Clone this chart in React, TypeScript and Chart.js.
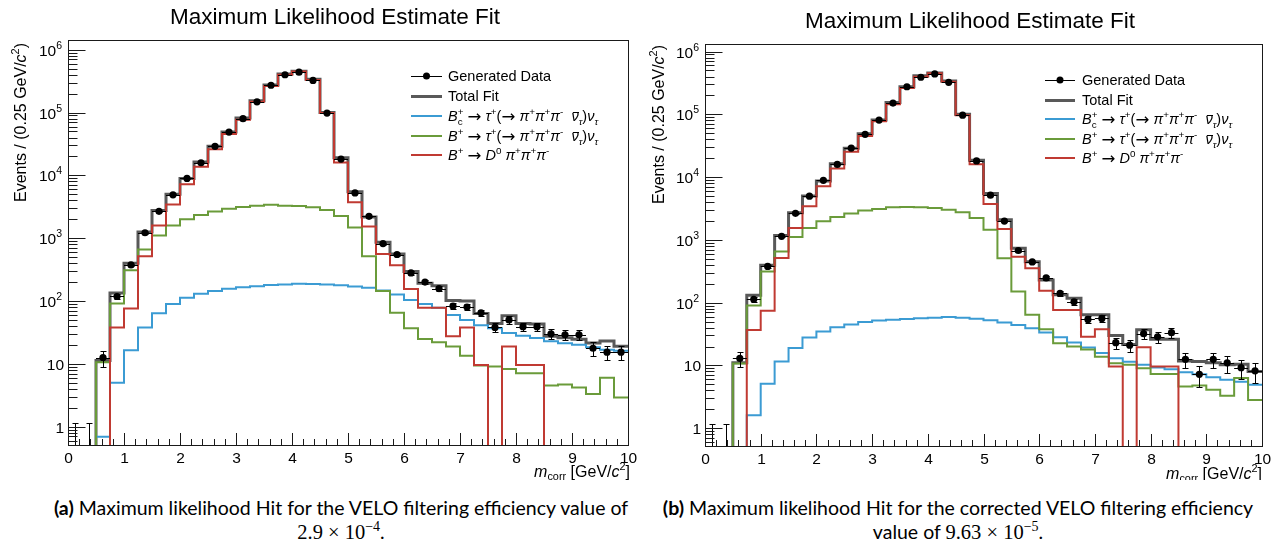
import React, { useEffect, useRef } from 'react';
import { Chart, registerables } from 'chart.js';

Chart.register(...registerables);

// ---------- axis / binning ----------
const BIN_LOW = [0, 0.25, 0.5, 0.75, 1, 1.25, 1.5, 1.75, 2, 2.25, 2.5, 2.75, 3, 3.25, 3.5, 3.75, 4, 4.25, 4.5, 4.75,
  5, 5.25, 5.5, 5.75, 6, 6.25, 6.5, 6.75, 7, 7.25, 7.5, 7.75, 8, 8.25, 8.5, 8.75, 9, 9.25, 9.5, 9.75];
const BIN_WIDTH = 0.25;
const X_MIN = 0;
const X_MAX = 10;
const X_TICK_VALUES = [0, 1, 2, 3, 4, 5, 6, 7, 8, 9, 10];
const X_TICK_LABELS = ['0', '1', '2', '3', '4', '5', '6', '7', '8', '9', '10'];
const X_MINOR_STEP = 0.2;
const Y_TICK_VALUES = [1, 10, 100, 1000, 10000, 100000, 1000000];
const Y_TICK_BASES = ['1', '10', '10', '10', '10', '10', '10'];
const Y_TICK_EXPS = ['', '', '2', '3', '4', '5', '6'];
const ZERO_UPPER = 1.15; // Poisson upper error for an empty bin

// ---------- (a) VELO efficiency 2.9e-4 ----------
const DATA_A = [0, 0, 12.6, 118, 375, 1220, 2680, 4900, 8950, 15900, 29000, 49000, 80000, 148000, 272000, 400000, 440000, 325000, 98000, 18200,
  5250, 2230, 820, 550, 280, 200, 158, 83, 80, 65, 38, 50, 39, 39, 30, 29, 29, 17.7, 15.3, 15.3];
const TOTAL_A = [0, 0, 11.3, 134, 400, 1250, 2760, 5000, 8900, 16300, 29000, 49000, 82000, 154000, 275000, 410000, 456000, 338000, 100000, 19000,
  5500, 2180, 860, 560, 295, 192, 175, 102, 100, 63, 44, 58, 44, 43, 27.5, 26, 24.5, 21.5, 23, 19];
const BC_A = [0, 0, 0.69, 5.0, 16.4, 38, 64, 90, 113, 131, 144, 157, 166, 172, 179, 183, 188, 187, 183, 178,
  170, 162, 147, 127, 104, 90, 78, 60, 50, 41, 37, 31, 28, 25.7, 22.8, 21.2, 20.2, 18.3, 16.8, 16.2];
const BP_A = [0, 0, 10.6, 91, 310, 660, 1100, 1590, 2000, 2350, 2650, 2930, 3150, 3300, 3400, 3300, 3250, 3100, 2800, 2250,
  1480, 515, 144, 65, 37, 24.8, 22, 18.8, 13.5, 9.4, 9.1, 8.3, 7.1, 7.1, 4.5, 4.7, 4.2, 3.3, 6.0, 2.9];
const D0_A = [0, 0, 0, 38, 76, 516, 1590, 3450, 7200, 13700, 26000, 45600, 77000, 148000, 264000, 400000, 450000, 330000, 98000, 16000,
  3740, 1540, 560, 370, 155, 78, 78, 27.4, 38, 9.6, 0, 18.8, 9.6, 9.6, 0, 0, 0, 0, 0, 0];

// ---------- (b) corrected VELO efficiency 9.63e-5 ----------
const DATA_B = [0, 0, 12.9, 113, 377, 1140, 2650, 4970, 8900, 15900, 29000, 48000, 81000, 151000, 275000, 390000, 440000, 323000, 97000, 18100,
  5150, 1990, 677, 446, 248, 140, 103, 54, 56, 23, 21, 32, 28.5, 33.2, 12.5, 7.2, 12.5, 11, 9.2, 8.2];
const TOTAL_B = [0, 0, 11, 131, 395, 1170, 2700, 5000, 8700, 16300, 28700, 49000, 81000, 155000, 275000, 412000, 457000, 340000, 100000, 18500,
  5500, 2100, 733, 450, 229, 133, 117, 64, 64, 30, 21.5, 37, 26, 26, 11.8, 11.5, 11, 10.2, 10.4, 8];
const BC_B = [0, 0, 0, 1.6, 5.1, 11.5, 19, 27.8, 34.8, 40.7, 44.8, 49, 52, 53.5, 55, 56.5, 57.5, 59, 57.5, 55.5,
  52.5, 48.4, 44, 39, 33.4, 28.2, 23.2, 19.3, 15.8, 13, 11.4, 10.2, 9.3, 8.7, 7.8, 7.2, 6.5, 5.9, 5.5, 4.9];
const BP_B = [0, 0, 10.7, 90, 312, 655, 1110, 1550, 1980, 2320, 2630, 2930, 3100, 3310, 3350, 3310, 3230, 3030, 2750, 2230,
  1450, 510, 150, 64, 37.7, 22.5, 20, 18, 13.8, 10.8, 10.2, 9.0, 7.3, 7.3, 4.6, 4.8, 4.1, 3.3, 6.3, 2.8];
const D0_B = [0, 0, 0, 36.6, 74.5, 513, 1550, 3430, 7180, 13700, 25400, 45300, 77600, 145000, 262000, 398000, 450000, 331000, 97000, 16000,
  3740, 1490, 540, 352, 155, 76, 76, 28.7, 37.6, 9.6, 0, 19.5, 9.6, 9.6, 0, 0, 0, 0, 0, 0];

// ---------- text ----------
type Seg = { t: string; it?: boolean; pos?: 'sup' | 'sub'; over?: boolean; stack?: boolean; big?: boolean };

const TITLE = 'Maximum Likelihood Estimate Fit';
const Y_TITLE: Seg[] = [{ t: 'Events / (0.25 GeV/' }, { t: 'c', it: true }, { t: '2', pos: 'sup' }, { t: ')' }];
const X_TITLE: Seg[] = [{ t: 'm', it: true }, { t: 'corr', pos: 'sub' }, { t: ' [GeV/' }, { t: 'c', it: true }, { t: '2', pos: 'sup' }, { t: ']' }];
const PI3: Seg[] = [
  { t: 'π', it: true }, { t: '+', pos: 'sup' }, { t: 'π', it: true }, { t: '+', pos: 'sup' }, { t: 'π', it: true }, { t: '-', pos: 'sup' },
];
const TAU_TAIL: Seg[] = [
  { t: ' ' }, { t: '→', big: true }, { t: ' ' }, { t: 'τ', it: true }, { t: '+', pos: 'sup' }, { t: '(' }, { t: '→', big: true }, { t: ' ' }, ...PI3, { t: '  ' },
  { t: 'ν', it: true, over: true }, { t: 'τ', it: true, pos: 'sub' }, { t: ')' }, { t: 'ν', it: true }, { t: 'τ', it: true, pos: 'sub' },
];
const LEGEND_LABELS: Seg[][] = [
  [{ t: 'Generated Data' }],
  [{ t: 'Total Fit' }],
  [{ t: 'B', it: true }, { t: '+', pos: 'sup', stack: true }, { t: 'c', pos: 'sub' }, ...TAU_TAIL],
  [{ t: 'B', it: true }, { t: '+', pos: 'sup' }, ...TAU_TAIL],
  [{ t: 'B', it: true }, { t: '+', pos: 'sup' }, { t: ' ' }, { t: '→', big: true }, { t: ' ' }, { t: 'D', it: true }, { t: '0', pos: 'sup' }, { t: ' ' }, ...PI3],
];

const FONT = '"Liberation Sans", Arial, sans-serif';
const COL_DATA = '#000000';
const COL_TOTAL = '#595959';
const COL_BC = '#3b9bd3';
const COL_BP = '#6a9b3a';
const COL_D0 = '#c03a32';
const LEGEND_STYLE = [
  { color: COL_DATA, width: 1, marker: true },
  { color: COL_TOTAL, width: 3, marker: false },
  { color: COL_BC, width: 2, marker: false },
  { color: COL_BP, width: 2, marker: false },
  { color: COL_D0, width: 2, marker: false },
];

function segFont(s: Seg, size: number) {
  const sz = s.pos ? size * 0.68 : s.big ? size * 1.15 : size;
  const fam = s.big ? '"DejaVu Sans", sans-serif' : FONT;
  return `${s.it ? 'italic ' : ''}${sz}px ${fam}`;
}
function richWidth(ctx: CanvasRenderingContext2D, segs: Seg[], size: number) {
  let w = 0;
  let pending = 0;
  for (const s of segs) {
    ctx.font = segFont(s, size);
    const sw = ctx.measureText(s.t).width;
    if (s.stack) { pending = sw; continue; }
    if (pending) { w += Math.max(pending, sw); pending = 0; } else w += sw;
  }
  return w;
}
function drawRich(ctx: CanvasRenderingContext2D, segs: Seg[], x: number, base: number, size: number) {
  let cx = x;
  let pending = 0;
  ctx.textAlign = 'left';
  ctx.textBaseline = 'alphabetic';
  for (const s of segs) {
    ctx.font = segFont(s, size);
    const sw = ctx.measureText(s.t).width;
    const dy = s.pos === 'sup' ? -size * 0.42 : s.pos === 'sub' ? size * 0.24 : s.big ? size * 0.05 : 0;
    ctx.fillText(s.t, cx, base + dy);
    if (s.over) {
      ctx.save();
      ctx.lineWidth = 1;
      ctx.strokeStyle = ctx.fillStyle as string;
      ctx.beginPath();
      const oy = Math.round(base + dy - size * 0.66) + 0.5;
      ctx.moveTo(cx + sw * 0.2, oy);
      ctx.lineTo(cx + sw * 1.05, oy);
      ctx.stroke();
      ctx.restore();
    }
    if (s.stack) { pending = sw; continue; }
    if (pending) { cx += Math.max(pending, sw); pending = 0; } else cx += sw;
  }
}

interface PanelCfg {
  width: number;
  pad: { left: number; right: number; top: number; bottom: number };
  yMin: number;
  yMax: number;
  data: number[];
  total: number[];
  bc: number[];
  bp: number[];
  d0: number[];
  titleX: number;
  titleY: number;
  legendRows: number[];
  legendLine: [number, number];
  legendTextX: number;
  yTitleX: number;
  yTitleTop: number;
  xTitleRight: number;
  xTitleY: number;
}

const FLOOR = 1e-4; // empty bins are drawn below the visible range

function steps(vals: number[]) {
  const pts = vals.map((v, i) => ({ x: BIN_LOW[i], y: v > 0 ? v : FLOOR }));
  const last = vals[vals.length - 1];
  pts.push({ x: X_MAX, y: last > 0 ? last : FLOOR });
  return pts;
}

function rootPlugin(cfg: PanelCfg) {
  return {
    id: 'rootStyle',
    afterDatasetsDraw(chart: any) {
      const { ctx, chartArea: a, scales } = chart;
      const x = scales.x;
      const y = scales.y;
      ctx.save();
      ctx.beginPath();
      ctx.rect(a.left, a.top, a.right - a.left, a.bottom - a.top);
      ctx.clip();
      ctx.strokeStyle = '#000';
      ctx.lineWidth = 1;
      const seg = (x1: number, y1: number, x2: number, y2: number) => {
        ctx.beginPath();
        ctx.moveTo(x1, y1);
        ctx.lineTo(x2, y2);
        ctx.stroke();
      };
      cfg.data.forEach((v, i) => {
        const px = Math.round(x.getPixelForValue(BIN_LOW[i] + BIN_WIDTH / 2)) + 0.5;
        if (v > 0) {
          const e = Math.sqrt(v);
          const py = Math.round(y.getPixelForValue(v)) + 0.5;
          const hi = Math.round(y.getPixelForValue(v + e)) + 0.5;
          const lo = v - e > 0 ? Math.round(y.getPixelForValue(v - e)) + 0.5 : a.bottom + 4;
          seg(px, lo, px, hi);
          seg(px - 3, hi, px + 3, hi);
          if (lo < a.bottom) seg(px - 3, lo, px + 3, lo);
          seg(x.getPixelForValue(BIN_LOW[i]), py, x.getPixelForValue(BIN_LOW[i] + BIN_WIDTH), py);
        } else {
          const hi = Math.round(y.getPixelForValue(ZERO_UPPER)) + 0.5;
          seg(px, a.bottom, px, hi);
          seg(px - 3, hi, px + 3, hi);
        }
      });
      ctx.restore();
    },
    afterDraw(chart: any) {
      const { ctx, chartArea: a, scales } = chart;
      const x = scales.x;
      const y = scales.y;
      ctx.save();
      ctx.fillStyle = '#000';
      ctx.strokeStyle = '#1a1a1a';
      ctx.lineWidth = 1;
      const L = Math.round(a.left) + 0.5;
      const R = Math.round(a.right) + 0.5;
      const T = Math.round(a.top) + 0.5;
      const B = Math.round(a.bottom) + 0.5;
      ctx.strokeRect(L, T, R - L, B - T);
      const line = (x1: number, y1: number, x2: number, y2: number) => {
        ctx.beginPath();
        ctx.moveTo(x1, y1);
        ctx.lineTo(x2, y2);
        ctx.stroke();
      };
      // x ticks (inside)
      for (let v = X_MIN; v <= X_MAX + 1e-9; v += X_MINOR_STEP) {
        const px = Math.round(x.getPixelForValue(v)) + 0.5;
        line(px, B, px, B - 6.5);
      }
      X_TICK_VALUES.forEach((v, i) => {
        const px = Math.round(x.getPixelForValue(v)) + 0.5;
        line(px, B, px, B - 12.5);
        ctx.font = `15.5px ${FONT}`;
        ctx.textAlign = 'center';
        ctx.textBaseline = 'middle';
        ctx.fillText(X_TICK_LABELS[i], px, a.bottom + 13.5);
      });
      // y ticks (inside)
      for (let d = 0.1; d <= 1e6; d *= 10) {
        for (let m = 2; m <= 9; m++) {
          const v = m * d;
          if (v < cfg.yMin || v > cfg.yMax) continue;
          const py = Math.round(y.getPixelForValue(v)) + 0.5;
          line(L, py, L + 9, py);
        }
      }
      Y_TICK_VALUES.forEach((v, i) => {
        const py = Math.round(y.getPixelForValue(v)) + 0.5;
        line(L, py, L + 17, py);
        const exp = Y_TICK_EXPS[i];
        ctx.textBaseline = 'alphabetic';
        ctx.textAlign = 'right';
        const right = a.left - 6;
        const base = py + 5.5;
        if (exp) {
          ctx.font = `10.5px ${FONT}`;
          const ew = ctx.measureText(exp).width;
          ctx.fillText(exp, right, base - 7);
          ctx.font = `15.5px ${FONT}`;
          ctx.fillText(Y_TICK_BASES[i], right - ew, base);
        } else {
          ctx.font = `15.5px ${FONT}`;
          ctx.fillText(Y_TICK_BASES[i], right + 2, base);
        }
      });
      // title
      ctx.font = `22.5px ${FONT}`;
      ctx.textAlign = 'center';
      ctx.textBaseline = 'middle';
      ctx.fillText(TITLE, cfg.titleX, cfg.titleY);
      // y title (rotated, right aligned at top)
      const ys = 16;
      const yw = richWidth(ctx, Y_TITLE, ys);
      ctx.save();
      ctx.translate(cfg.yTitleX, cfg.yTitleTop);
      ctx.rotate(-Math.PI / 2);
      drawRich(ctx, Y_TITLE, -yw, ys * 0.36, ys);
      ctx.restore();
      // x title (right aligned)
      const xw = richWidth(ctx, X_TITLE, 16);
      drawRich(ctx, X_TITLE, cfg.xTitleRight - xw, cfg.xTitleY + 5.5, 16);
      // legend
      const ls = 14.5;
      LEGEND_LABELS.forEach((segs, i) => {
        const ry = cfg.legendRows[i];
        const st = LEGEND_STYLE[i];
        ctx.strokeStyle = st.color;
        ctx.lineWidth = st.width;
        const ly = st.width % 2 === 1 ? Math.round(ry) + 0.5 : Math.round(ry);
        line(cfg.legendLine[0], ly, cfg.legendLine[1], ly);
        if (st.marker) {
          ctx.fillStyle = st.color;
          ctx.beginPath();
          ctx.arc((cfg.legendLine[0] + cfg.legendLine[1]) / 2, ry, 3.5, 0, Math.PI * 2);
          ctx.fill();
        }
        ctx.fillStyle = '#000';
        drawRich(ctx, segs, cfg.legendTextX, ry + ls * 0.36, ls);
      });
      ctx.restore();
    },
  };
}

function Panel({ cfg, left }: { cfg: PanelCfg; left: number }) {
  const ref = useRef<HTMLCanvasElement>(null);
  useEffect(() => {
    const pts = cfg.data.map((v, i) => ({ x: BIN_LOW[i] + BIN_WIDTH / 2, y: v > 0 ? v : null }));
    const stepDs = (label: string, vals: number[], color: string, w: number) => ({
      label,
      data: steps(vals),
      borderColor: color,
      borderWidth: w,
      pointRadius: 0,
      stepped: 'before' as const,
      fill: false,
      tension: 0,
    });
    const chart = new Chart(ref.current as HTMLCanvasElement, {
      type: 'line',
      data: {
        datasets: [
          {
            label: 'Generated Data',
            data: pts as any,
            showLine: false,
            pointRadius: 3.6,
            pointBackgroundColor: COL_DATA,
            pointBorderColor: COL_DATA,
            pointBorderWidth: 0,
            borderColor: COL_DATA,
          },
          stepDs('B+ → D0 π+π+π-', cfg.d0, COL_D0, 2),
          stepDs('B+ → τ+ ν', cfg.bp, COL_BP, 2),
          stepDs('Bc+ → τ+ ν', cfg.bc, COL_BC, 2),
          stepDs('Total Fit', cfg.total, COL_TOTAL, 3),
        ] as any,
      },
      options: {
        responsive: false,
        animation: false,
        events: [],
        layout: { padding: cfg.pad },
        scales: {
          x: { type: 'linear', min: X_MIN, max: X_MAX, display: false },
          y: { type: 'logarithmic', min: cfg.yMin, max: cfg.yMax, display: false },
        },
        plugins: {
          legend: { display: false },
          tooltip: { enabled: false },
          title: { display: false },
        },
      },
      plugins: [rootPlugin(cfg)],
    });
    return () => chart.destroy();
  }, []);
  return (
    <canvas
      ref={ref}
      width={cfg.width}
      height={480}
      style={{ position: 'absolute', left, top: 0, width: cfg.width, height: 480 }}
    />
  );
}

const PANEL_A: PanelCfg = {
  width: 640,
  pad: { left: 68, right: 12, top: 40, bottom: 35 },
  yMin: 0.51,
  yMax: 1.43e6,
  data: DATA_A, total: TOTAL_A, bc: BC_A, bp: BP_A, d0: D0_A,
  titleX: 335, titleY: 18,
  legendRows: [76, 96, 116, 136, 155],
  legendLine: [411, 442],
  legendTextX: 448,
  yTitleX: 20, yTitleTop: 43,
  xTitleRight: 630, xTitleY: 471,
};

const PANEL_B: PanelCfg = {
  width: 645,
  pad: { left: 65, right: 23, top: 44, bottom: 34 },
  yMin: 0.52,
  yMax: 1.32e6,
  data: DATA_B, total: TOTAL_B, bc: BC_B, bp: BP_B, d0: D0_B,
  titleX: 330, titleY: 22,
  legendRows: [80, 100, 119, 139, 158],
  legendLine: [405, 435],
  legendTextX: 442,
  yTitleX: 18, yTitleTop: 45,
  xTitleRight: 622, xTitleY: 473,
};

const CAP_FONT = 'Lato, "Noto Sans", sans-serif';
const MATH_FONT = '"Liberation Serif", "DejaVu Serif", serif';

export default function App() {
  const capStyle: React.CSSProperties = {
    position: 'absolute', top: 496, width: 680, textAlign: 'center', font: `19.5px ${CAP_FONT}`,
    lineHeight: '24px', whiteSpace: 'nowrap', color: '#000',
  };
  const mathStyle: React.CSSProperties = { fontFamily: MATH_FONT, fontSize: 20.5 };
  const supStyle: React.CSSProperties = { fontSize: 14, verticalAlign: 8, lineHeight: 0 };
  return (
    <div style={{ position: 'fixed', left: 0, top: 0, width: 1285, height: 550, background: '#fff', overflow: 'hidden' }}>
      <Panel cfg={PANEL_A} left={0} />
      <Panel cfg={PANEL_B} left={640} />
      <div style={{ ...capStyle, left: 1 }}>
        <div><b>(a)</b> Maximum likelihood Hit for the VELO filtering efficiency value of</div>
        <div><span style={mathStyle}>2.9 × 10<sup style={supStyle}>−4</sup></span>.</div>
      </div>
      <div style={{ ...capStyle, left: 618 }}>
        <div><b>(b)</b> Maximum likelihood Hit for the corrected VELO filtering efficiency</div>
        <div>value of <span style={mathStyle}>9.63 × 10<sup style={supStyle}>−5</sup></span>.</div>
      </div>
    </div>
  );
}
